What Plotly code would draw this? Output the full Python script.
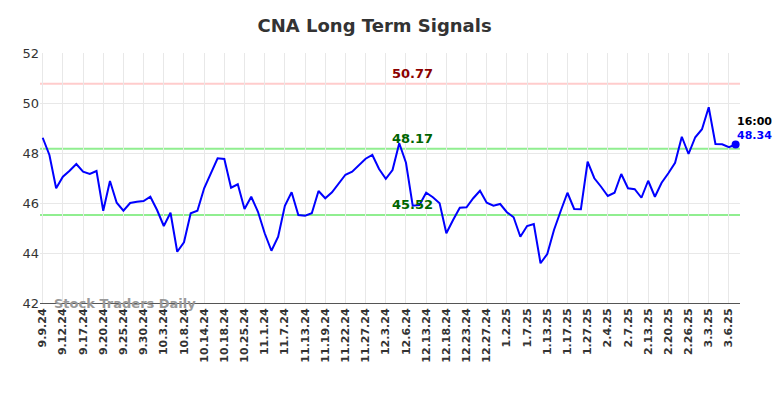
import plotly.graph_objects as go

tick_labels = ["9.9.24", "9.12.24", "9.17.24", "9.20.24", "9.25.24", "9.30.24", "10.3.24", "10.8.24",
               "10.14.24", "10.18.24", "10.25.24", "11.1.24", "11.7.24", "11.13.24", "11.19.24",
               "11.22.24", "11.27.24", "12.3.24", "12.6.24", "12.13.24", "12.18.24", "12.23.24",
               "12.27.24", "1.2.25", "1.7.25", "1.13.25", "1.17.25", "1.27.25", "2.4.25", "2.7.25",
               "2.13.25", "2.20.25", "2.26.25", "3.3.25", "3.6.25"]

prices = [48.61, 47.92, 46.59, 47.05, 47.29, 47.56, 47.25, 47.16, 47.28, 45.69,
          46.88, 46.01, 45.69, 46.00, 46.05, 46.08, 46.25, 45.72, 45.08, 45.61,
          44.05, 44.43, 45.59, 45.69, 46.59, 47.21, 47.79, 47.76, 46.61, 46.75,
          45.76, 46.25, 45.65, 44.79, 44.09, 44.65, 45.89, 46.43, 45.52, 45.49,
          45.59, 46.48, 46.19, 46.43, 46.79, 47.13, 47.25, 47.52, 47.77, 47.92,
          47.36, 46.97, 47.32, 48.39, 47.61, 45.89, 45.92, 46.41, 46.23, 45.99,
          44.79, 45.32, 45.81, 45.83, 46.19, 46.49, 46.01, 45.89, 45.96, 45.63,
          45.43, 44.65, 45.08, 45.16, 43.59, 43.96, 44.92, 45.68, 46.41, 45.76,
          45.75, 47.65, 46.99, 46.65, 46.28, 46.41, 47.16, 46.59, 46.55, 46.21,
          46.89, 46.25, 46.81, 47.19, 47.61, 48.65, 47.96, 48.63, 48.95, 49.83,
          48.36, 48.35, 48.23, 48.34]

resistance = 50.77
support_levels = [48.17, 45.52]
last_time = "16:00"
tick_step = 3

x = list(range(len(prices)))
tickvals = [i * tick_step for i in range(len(tick_labels))]

fig = go.Figure()

fig.add_hline(y=resistance, line=dict(color="#ffcccc", width=2), layer="below")
for s in support_levels:
    fig.add_hline(y=s, line=dict(color="#90ee90", width=2), layer="below")

fig.add_trace(go.Scatter(x=x, y=prices, mode="lines",
                         line=dict(color="#0000ff", width=2), hoverinfo="skip"))
fig.add_trace(go.Scatter(x=[x[-1]], y=[prices[-1]], mode="markers",
                         marker=dict(color="#0000ff", size=8), hoverinfo="skip"))

mid = 55
fig.add_annotation(x=mid, y=resistance, text=f"<b>{resistance:.2f}</b>", showarrow=False,
                   yanchor="bottom", yshift=1, font=dict(color="#8b0000", size=13))
for s in support_levels:
    fig.add_annotation(x=mid, y=s, text=f"<b>{s:.2f}</b>", showarrow=False,
                       yanchor="bottom", yshift=1, font=dict(color="#006400", size=13))

fig.add_annotation(x=x[-1], y=prices[-1], text=f"<b>{last_time}</b>", showarrow=False,
                   xanchor="left", yanchor="bottom", xshift=-1, yshift=15,
                   font=dict(color="#000000", size=11))
fig.add_annotation(x=x[-1], y=prices[-1], text=f"<b>{prices[-1]:.2f}</b>", showarrow=False,
                   xanchor="left", yanchor="bottom", xshift=-1, yshift=1,
                   font=dict(color="#0000ff", size=11))

fig.add_annotation(xref="paper", yref="paper", x=0.017, y=0.0, text="<b>Stock Traders Daily</b>",
                   showarrow=False, xanchor="left", yanchor="middle",
                   font=dict(color="#999999", size=13))

# page body has an 8px margin; compensate so the plot lands where the reference has it
fig.update_layout(
    width=776, height=390,
    margin=dict(l=32, r=44, t=45, b=95),
    paper_bgcolor="white", plot_bgcolor="white",
    showlegend=False,
    font=dict(family="DejaVu Sans", color="#333333"),
    title=dict(text="<b>CNA Long Term Signals</b>", xref="paper", x=0.478, xanchor="center",
               y=0.954, yanchor="middle", font=dict(size=18, color="#333333")),
    xaxis=dict(range=[-0.4, len(prices) - 0.35], tickmode="array", tickvals=tickvals,
               ticktext=[f"<b>{t}</b>" for t in tick_labels], tickangle=-90,
               tickfont=dict(size=11, color="#333333"),
               showgrid=True, gridcolor="#e8e8e8", gridwidth=1,
               showline=True, linecolor="#555555", linewidth=1, zeroline=False,
               ticks=""),
    yaxis=dict(range=[42, 52], tickvals=[42, 44, 46, 48, 50, 52],
               tickfont=dict(size=13, color="#333333"),
               showgrid=True, gridcolor="#e8e8e8", gridwidth=1,
               zeroline=False, showline=False, ticks=""),
)

fig.write_html("out.html")
